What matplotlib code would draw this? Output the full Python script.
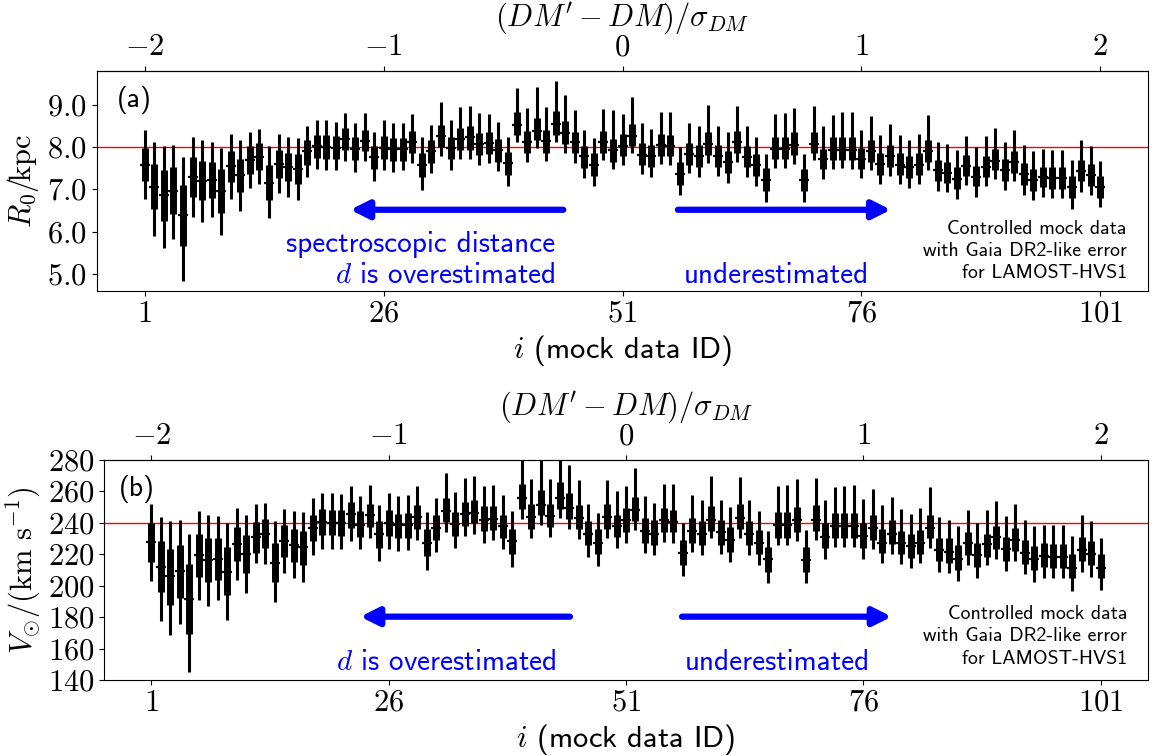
import matplotlib
matplotlib.use("Agg")
import matplotlib.pyplot as plt
from matplotlib.ticker import FuncFormatter, FixedLocator
import numpy as np

plt.rcParams["mathtext.fontset"] = "cm"
plt.rcParams["font.family"] = ["cmss10", "DejaVu Sans"]
plt.rcParams["axes.unicode_minus"] = False

ids = np.arange(1, 102)

# panel (a): R0 posterior, 2.5/16/50/84/97.5 percentiles (kpc)
r0_hi95 = [8.41, 8.12, 8.02, 8.06, 7.76, 8.25, 8.16, 8.13, 7.99, 8.31,
           8.17, 8.37, 8.43, 8.02, 8.30, 8.25, 8.22, 8.50, 8.65, 8.64,
           8.59, 8.81, 8.57, 8.81, 8.36, 8.63, 8.57, 8.58, 8.79, 8.24,
           8.53, 9.06, 8.65, 8.96, 8.98, 8.81, 8.78, 8.59, 8.25, 9.40,
           8.92, 9.42, 8.95, 9.57, 9.24, 8.88, 8.41, 8.21, 8.90, 8.88,
           8.79, 9.18, 8.57, 8.43, 8.83, 8.82, 8.00, 8.58, 8.49, 8.99,
           8.49, 8.35, 8.98, 8.49, 8.25, 7.83, 8.78, 8.81, 8.92, 7.84,
           8.97, 8.49, 8.77, 8.82, 8.83, 8.41, 8.73, 8.28, 8.54, 8.28,
           8.17, 8.31, 8.77, 8.13, 8.08, 7.94, 8.27, 8.00, 8.27, 8.45,
           8.13, 8.41, 8.06, 7.90, 7.95, 7.94, 7.94, 7.70, 8.16, 8.03,
           7.68]
r0_hi68 = [7.99, 7.60, 7.45, 7.52, 7.11, 7.76, 7.68, 7.66, 7.48, 7.91,
           7.72, 8.02, 8.09, 7.58, 7.94, 7.87, 7.83, 8.17, 8.29, 8.28,
           8.26, 8.45, 8.23, 8.41, 8.03, 8.27, 8.21, 8.21, 8.39, 7.87,
           8.16, 8.53, 8.25, 8.45, 8.49, 8.33, 8.36, 8.19, 7.88, 8.82,
           8.39, 8.70, 8.41, 8.86, 8.62, 8.37, 8.03, 7.86, 8.39, 8.20,
           8.32, 8.55, 8.09, 8.04, 8.31, 8.29, 7.64, 8.11, 8.04, 8.36,
           8.06, 7.90, 8.39, 8.03, 7.84, 7.50, 8.24, 8.24, 8.35, 7.49,
           8.37, 7.96, 8.23, 8.23, 8.24, 7.98, 8.16, 7.87, 8.06, 7.86,
           7.78, 7.86, 8.17, 7.70, 7.66, 7.52, 7.82, 7.56, 7.79, 7.95,
           7.72, 7.90, 7.62, 7.49, 7.54, 7.52, 7.52, 7.32, 7.70, 7.60,
           7.32]
r0_med = [7.59, 7.06, 6.86, 6.97, 6.39, 7.30, 7.21, 7.23, 6.96, 7.56,
          7.33, 7.70, 7.77, 7.15, 7.61, 7.53, 7.48, 7.90, 8.02, 8.00,
          7.98, 8.19, 7.96, 8.15, 7.76, 7.99, 7.95, 7.95, 8.12, 7.57,
          7.90, 8.27, 7.98, 8.20, 8.23, 8.07, 8.09, 7.93, 7.62, 8.53,
          8.12, 8.39, 8.15, 8.55, 8.33, 8.12, 7.78, 7.59, 8.13, 7.94,
          8.03, 8.27, 7.82, 7.78, 8.05, 8.02, 7.37, 7.84, 7.78, 8.08,
          7.79, 7.66, 8.12, 7.77, 7.59, 7.23, 7.96, 7.95, 8.05, 7.23,
          8.08, 7.72, 7.94, 7.94, 7.94, 7.72, 7.90, 7.60, 7.78, 7.58,
          7.52, 7.58, 7.91, 7.45, 7.40, 7.25, 7.56, 7.30, 7.53, 7.68,
          7.46, 7.64, 7.37, 7.23, 7.29, 7.27, 7.27, 7.05, 7.44, 7.33,
          7.05]
r0_lo68 = [7.19, 6.53, 6.26, 6.42, 5.66, 6.83, 6.74, 6.79, 6.45, 7.18,
           6.93, 7.37, 7.45, 6.75, 7.28, 7.19, 7.12, 7.59, 7.74, 7.72,
           7.72, 7.94, 7.70, 7.90, 7.49, 7.72, 7.68, 7.68, 7.86, 7.29,
           7.63, 8.00, 7.72, 7.94, 7.94, 7.82, 7.84, 7.66, 7.34, 8.29,
           7.86, 8.17, 7.87, 8.29, 8.08, 7.86, 7.50, 7.32, 7.87, 7.66,
           7.79, 8.03, 7.57, 7.53, 7.79, 7.79, 7.11, 7.58, 7.52, 7.82,
           7.54, 7.38, 7.87, 7.53, 7.32, 6.97, 7.72, 7.72, 7.82, 6.97,
           7.86, 7.48, 7.70, 7.70, 7.70, 7.48, 7.66, 7.34, 7.53, 7.34,
           7.27, 7.34, 7.66, 7.19, 7.15, 7.00, 7.32, 7.07, 7.29, 7.45,
           7.21, 7.38, 7.11, 6.97, 7.05, 7.01, 7.01, 6.79, 7.19, 7.09,
           6.81]
r0_lo95 = [6.77, 5.91, 5.62, 5.84, 4.84, 6.36, 6.22, 6.36, 5.92, 6.78,
           6.50, 7.03, 7.12, 6.32, 6.91, 6.82, 6.76, 7.30, 7.48, 7.45,
           7.45, 7.68, 7.42, 7.68, 7.20, 7.46, 7.41, 7.45, 7.62, 6.99,
           7.38, 7.78, 7.46, 7.72, 7.72, 7.58, 7.62, 7.44, 7.07, 8.13,
           7.66, 7.98, 7.68, 8.13, 7.87, 7.62, 7.27, 7.07, 7.70, 7.48,
           7.58, 7.86, 7.36, 7.30, 7.60, 7.58, 6.87, 7.38, 7.30, 7.62,
           7.32, 7.15, 7.66, 7.30, 7.09, 6.71, 7.50, 7.50, 7.60, 6.70,
           7.70, 7.24, 7.49, 7.50, 7.49, 7.27, 7.46, 7.12, 7.32, 7.12,
           7.03, 7.12, 7.46, 6.97, 6.93, 6.77, 7.11, 6.82, 7.09, 7.24,
           6.99, 7.20, 6.87, 6.75, 6.82, 6.81, 6.81, 6.55, 6.95, 6.87,
           6.58]

# panel (b): V_sun posterior, same percentiles (km/s)
vs_hi95 = [252.2, 243.6, 241.1, 242.1, 233.2, 247.6, 244.9, 244.2, 240.0, 249.5,
           244.9, 251.8, 252.9, 241.1, 249.1, 247.4, 247.0, 255.8, 259.2, 259.2,
           258.2, 263.4, 257.1, 264.3, 251.2, 259.0, 256.9, 257.5, 263.4, 247.0,
           255.8, 271.9, 259.6, 268.5, 269.6, 263.4, 264.3, 257.5, 247.4, 284.0,
           267.7, 283.0, 268.1, 286.0, 277.0, 267.0, 252.2, 246.3, 267.0, 260.1,
           263.4, 275.0, 257.1, 252.9, 264.9, 264.9, 240.0, 257.5, 254.4, 269.6,
           254.8, 250.1, 269.1, 254.8, 247.4, 234.9, 263.4, 264.3, 267.7, 235.4,
           268.7, 254.8, 262.8, 263.4, 264.3, 255.0, 261.7, 251.2, 256.5, 248.7,
           245.9, 249.7, 262.8, 243.8, 242.1, 237.9, 248.0, 239.6, 248.0, 253.7,
           244.2, 252.2, 241.7, 237.9, 238.5, 238.5, 238.5, 231.6, 244.9, 241.1,
           230.5]
vs_hi68 = [240.0, 228.4, 223.3, 225.9, 213.6, 232.8, 230.1, 230.1, 224.8, 237.5,
           232.2, 240.6, 242.7, 227.5, 238.5, 236.0, 234.7, 244.9, 248.7, 248.4,
           248.0, 253.3, 247.4, 252.2, 241.1, 248.0, 245.9, 246.5, 251.2, 236.0,
           244.9, 255.8, 247.0, 253.3, 254.8, 250.6, 250.6, 245.3, 236.4, 264.5,
           251.8, 261.1, 252.2, 266.0, 259.0, 251.2, 241.1, 236.0, 251.8, 245.3,
           249.5, 256.5, 243.2, 241.7, 249.5, 248.4, 229.0, 243.2, 241.3, 250.8,
           242.1, 237.5, 251.8, 241.3, 235.4, 224.8, 247.0, 247.0, 250.1, 224.4,
           251.2, 239.6, 246.3, 246.5, 246.5, 239.6, 244.9, 236.4, 241.7, 234.9,
           233.2, 235.4, 244.9, 230.1, 230.1, 225.9, 234.3, 227.5, 233.2, 238.1,
           231.1, 237.0, 229.0, 225.4, 226.9, 226.3, 226.3, 219.9, 231.1, 228.4,
           219.9]
vs_med = [228.0, 211.9, 206.2, 209.4, 191.4, 219.5, 216.1, 216.8, 209.0, 226.7,
          219.9, 231.1, 233.0, 214.7, 228.4, 225.9, 224.4, 237.0, 240.6, 240.0,
          239.6, 245.5, 238.9, 244.9, 232.6, 239.6, 238.5, 238.5, 243.8, 227.3,
          236.8, 247.6, 239.2, 245.5, 246.5, 242.1, 242.7, 237.9, 228.4, 255.8,
          243.8, 251.6, 244.4, 255.8, 249.7, 243.4, 233.2, 227.5, 243.8, 237.9,
          241.7, 248.0, 234.7, 233.2, 241.7, 240.6, 221.0, 234.9, 233.2, 242.1,
          233.9, 229.4, 243.4, 233.2, 227.3, 216.8, 238.5, 238.5, 241.7, 216.4,
          242.1, 231.1, 238.1, 238.1, 238.1, 231.6, 236.8, 227.5, 233.2, 227.5,
          225.2, 227.5, 236.8, 222.7, 221.6, 217.0, 226.9, 219.5, 226.3, 231.1,
          223.3, 229.0, 221.0, 216.8, 219.1, 218.5, 218.0, 211.5, 222.7, 219.9,
          211.5]
vs_lo68 = [215.3, 195.9, 187.9, 192.5, 169.5, 205.4, 202.2, 203.7, 194.2, 215.7,
           207.9, 221.0, 223.7, 202.6, 218.5, 215.3, 213.2, 228.4, 232.2, 232.2,
           231.8, 236.8, 231.1, 237.5, 223.7, 231.6, 230.1, 230.5, 236.0, 218.9,
           229.0, 240.6, 231.6, 237.9, 239.6, 234.9, 235.4, 230.1, 220.2, 249.1,
           236.4, 244.9, 237.5, 249.1, 242.7, 236.0, 225.9, 220.2, 236.4, 231.1,
           234.3, 241.3, 227.5, 225.9, 234.3, 233.9, 213.2, 227.5, 225.9, 234.9,
           225.9, 221.6, 236.0, 225.9, 220.2, 209.0, 230.5, 230.5, 233.9, 208.5,
           234.9, 223.7, 230.5, 230.5, 230.5, 223.7, 229.0, 220.6, 226.3, 220.0,
           217.8, 220.2, 230.1, 215.7, 214.2, 210.0, 219.5, 212.1, 218.5, 223.3,
           215.7, 222.1, 213.6, 210.0, 212.1, 211.5, 211.5, 204.7, 215.7, 213.2,
           204.7]
vs_lo95 = [203.1, 177.3, 168.9, 175.6, 145.2, 191.0, 186.8, 191.0, 178.4, 203.7,
           195.2, 214.2, 213.6, 189.5, 207.9, 204.7, 202.6, 219.5, 223.3, 223.3,
           223.3, 228.4, 223.3, 230.1, 215.7, 223.3, 222.3, 222.7, 229.0, 210.0,
           221.6, 233.9, 224.2, 231.8, 233.2, 227.5, 229.0, 223.1, 212.1, 242.7,
           230.5, 238.7, 231.1, 243.2, 236.0, 229.6, 218.5, 212.6, 230.5, 224.2,
           227.5, 235.4, 220.6, 219.5, 228.0, 227.5, 206.4, 221.6, 219.5, 230.1,
           220.2, 214.9, 230.5, 219.5, 213.2, 201.6, 225.9, 225.9, 228.4, 201.6,
           229.4, 216.8, 224.8, 224.8, 224.8, 216.8, 223.3, 214.2, 219.9, 213.6,
           211.1, 214.2, 223.7, 209.0, 207.9, 203.1, 213.2, 204.7, 213.2, 217.0,
           209.4, 215.7, 207.3, 202.6, 205.0, 205.0, 205.0, 196.7, 208.5, 205.8,
           197.4]

R0_TRUE = 8.0
VSUN_TRUE = 240.0

TICK_FS = 22
LABEL_FS = 22
NOTE_FS = 21
MOCK_FS = 14.3
MOCK_TEXT = "Controlled mock data\nwith Gaia DR2-like error\nfor LAMOST-HVS1"


def math_fmt(fmt):
    return FuncFormatter(lambda v, pos: "$" + (fmt % v) + "$")


def add_arrow(ax, tail, tip, y):
    ax.annotate("", xy=(tip, y), xytext=(tail, y),
                arrowprops=dict(arrowstyle="-|>", color="blue", lw=4.5,
                                mutation_scale=27, shrinkA=0, shrinkB=0))


def draw_panel(ax, hi95, hi68, med, lo68, lo95, truth):
    ax.axhline(truth, color="red", lw=1.0, zorder=1)
    ax.vlines(ids, lo95, hi95, color="black", lw=2.2, zorder=2)
    ax.vlines(ids, lo68, hi68, color="black", lw=5.0, zorder=3)
    ax.plot(ids, med, ls="none", marker="_", ms=7, mew=1.6, color="black", zorder=4)
    ax.set_xlim(-4, 106)
    ax.xaxis.set_major_locator(FixedLocator([1, 26, 51, 76, 101]))
    ax.xaxis.set_major_formatter(math_fmt("%d"))
    ax.tick_params(labelsize=TICK_FS)
    ax.set_xlabel(r"$i$ (mock data ID)", fontsize=LABEL_FS, labelpad=4)

    top = ax.secondary_xaxis("top", functions=(lambda i: (i - 51) / 25.0,
                                                lambda d: d * 25.0 + 51))
    top.xaxis.set_major_locator(FixedLocator([-2, -1, 0, 1, 2]))
    top.xaxis.set_major_formatter(math_fmt("%d"))
    top.tick_params(labelsize=TICK_FS)
    top.set_xlabel(r"$(DM' - DM)/\sigma_{DM}$", fontsize=LABEL_FS, labelpad=6)


fig = plt.figure(figsize=(11.56, 7.56), dpi=100)

# panel (a)
ax1 = fig.add_axes([97 / 1156, 1 - 291 / 756, 1051 / 1156, 220 / 756])
draw_panel(ax1, r0_hi95, r0_hi68, r0_med, r0_lo68, r0_lo95, R0_TRUE)
ax1.set_ylim(4.6, 9.8)
ax1.yaxis.set_major_locator(FixedLocator([5, 6, 7, 8, 9]))
ax1.yaxis.set_major_formatter(math_fmt("%.1f"))
ax1.set_ylabel(r"$R_0/\!\mathrm{kpc}$", fontsize=LABEL_FS)
ax1.yaxis.set_label_coords(-0.053, 0.5)
ax1.text(0.019, 0.93, "(a)", transform=ax1.transAxes, fontsize=20, va="top", ha="left")
add_arrow(ax1, 44.8, 22.5, 6.52)
add_arrow(ax1, 56.8, 79.1, 6.52)
ax1.text(44.0, 0.01, "spectroscopic distance\n$d$ is overestimated",
         transform=ax1.get_xaxis_transform(), color="blue", fontsize=NOTE_FS,
         ha="right", va="bottom", multialignment="right", linespacing=1.2)
ax1.text(57.4, 0.01, "underestimated", transform=ax1.get_xaxis_transform(),
         color="blue", fontsize=NOTE_FS, ha="left", va="bottom")
ax1.text(0.98, 0.04, MOCK_TEXT, transform=ax1.transAxes, fontsize=MOCK_FS,
         ha="right", va="bottom", multialignment="right", linespacing=1.3)

# panel (b)
ax2 = fig.add_axes([104 / 1156, 1 - 680 / 756, 1044 / 1156, 220 / 756])
draw_panel(ax2, vs_hi95, vs_hi68, vs_med, vs_lo68, vs_lo95, VSUN_TRUE)
ax2.set_ylim(140, 280)
ax2.yaxis.set_major_locator(FixedLocator(list(range(140, 281, 20))))
ax2.yaxis.set_major_formatter(math_fmt("%d"))
ax2.set_ylabel(r"$V_{\odot}/(\mathrm{km\ s^{-1}})$", fontsize=LABEL_FS)
ax2.yaxis.set_label_coords(-0.058, 0.5)
ax2.text(0.014, 0.93, "(b)", transform=ax2.transAxes, fontsize=20, va="top", ha="left")
add_arrow(ax2, 45.1, 23.0, 180.3)
add_arrow(ax2, 56.9, 79.0, 180.3)
ax2.text(43.7, 0.018, "$d$ is overestimated", transform=ax2.get_xaxis_transform(),
         color="blue", fontsize=NOTE_FS, ha="right", va="bottom")
ax2.text(57.2, 0.018, "underestimated", transform=ax2.get_xaxis_transform(),
         color="blue", fontsize=NOTE_FS, ha="left", va="bottom")
ax2.text(0.98, 0.056, MOCK_TEXT, transform=ax2.transAxes, fontsize=MOCK_FS,
         ha="right", va="bottom", multialignment="right", linespacing=1.3)

fig.savefig("out.png", dpi=100)
